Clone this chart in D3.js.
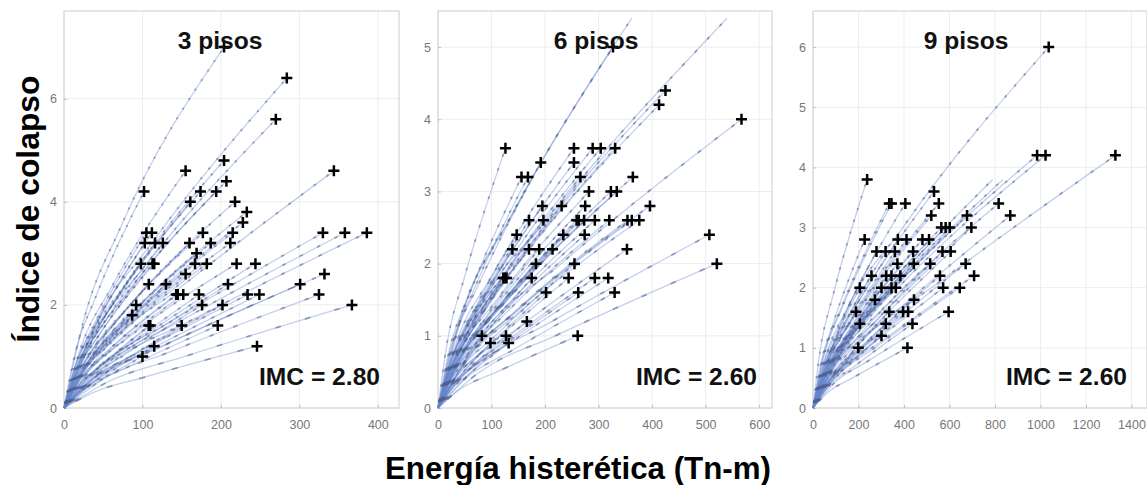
<!DOCTYPE html>
<html><head><meta charset="utf-8">
<style>
html,body{margin:0;padding:0;background:#fff}
svg{display:block}
text{font-family:"Liberation Sans",Arial,sans-serif}
.tick text{fill:#777;font-size:12.5px}
</style>
<script src="https://cdnjs.cloudflare.com/ajax/libs/d3/7.8.5/d3.min.js"></script>
</head><body>
<svg id="c" width="1147" height="485"></svg>
<script>
// each run: [final energy, final index, energy at 1/4 of final index, energy at 1/2 of final index]
const runs3=[[204,7.0,26,72],[284,6.4,40,112],[270,5.6,38,106],[204,4.8,28,78],[155,4.6,21,59],[344,4.6,52,145],[102,4.2,14,39],[174,4.2,24,66],[194,4.2,27,74],[207,4.4,29,79],[161,4.0,22,62],[218,4.0,31,84],[233,3.8,33,90],[228,3.6,32,88],[105,3.4,15,41],[112,3.4,16,43],[177,3.4,25,68],[215,3.4,30,83],[330,3.4,50,139],[358,3.4,54,150],[386,3.4,58,162],[103,3.2,14,40],[116,3.2,16,45],[126,3.2,18,49],[160,3.2,22,62],[187,3.2,26,72],[212,3.2,30,82],[169,3.0,24,65],[98,2.8,14,38],[113,2.8,16,44],[115,2.8,16,44],[167,2.8,23,64],[182,2.8,25,70],[220,2.8,31,85],[244,2.8,37,102],[155,2.6,22,60],[332,2.6,50,139],[108,2.4,15,42],[130,2.4,18,50],[209,2.4,31,88],[301,2.4,45,126],[143,2.2,20,55],[145,2.2,20,56],[152,2.2,21,59],[172,2.2,26,72],[234,2.2,35,98],[249,2.2,37,105],[325,2.2,49,137],[92,2.0,13,36],[176,2.0,26,74],[202,2.0,30,85],[367,2.0,55,154],[87,1.8,12,34],[108,1.6,16,45],[110,1.6,17,46],[150,1.6,23,63],[196,1.6,29,82],[115,1.2,17,48],[246,1.2,37,103],[100,1.0,15,42]];
const runs6=[[327,5.0,42,125],[425,4.4,58,165],[413,4.2,57,160],[567,4.0,80,230],[126,3.6,17,49],[254,3.6,34,98],[289,3.6,39,112],[304,3.6,41,118],[331,3.6,45,128],[192,3.4,26,75],[254,3.4,34,98],[156,3.2,21,60],[168,3.2,23,65],[266,3.2,37,103],[364,3.2,51,142],[282,3.0,39,110],[323,3.0,45,126],[334,3.0,47,130],[195,2.8,27,76],[231,2.8,32,90],[275,2.8,39,107],[396,2.8,56,155],[170,2.6,24,66],[197,2.6,28,77],[259,2.6,36,101],[263,2.6,37,103],[273,2.6,38,106],[293,2.6,41,114],[320,2.6,45,125],[354,2.6,50,138],[362,2.6,51,141],[376,2.6,53,147],[147,2.4,21,57],[234,2.4,33,91],[274,2.4,38,107],[507,2.4,76,213],[139,2.2,19,54],[170,2.2,24,66],[189,2.2,26,74],[214,2.2,30,83],[353,2.2,53,148],[183,2.0,26,71],[255,2.0,38,107],[521,2.0,78,219],[122,1.8,17,48],[125,1.8,18,49],[128,1.8,18,50],[175,1.8,26,74],[244,1.8,37,102],[293,1.8,44,123],[318,1.8,48,134],[202,1.6,30,85],[262,1.6,39,110],[330,1.6,50,139],[166,1.2,25,70],[82,1.0,12,34],[127,1.0,19,53],[261,1.0,39,110],[98,0.9,15,41],[132,0.9,20,55]];
const runs9=[[1036,6.0,135,395],[985,4.2,138,384],[1022,4.2,143,399],[1329,4.2,199,558],[238,3.8,31,90],[532,3.6,72,205],[335,3.4,45,128],[345,3.4,47,132],[406,3.4,55,156],[553,3.4,75,212],[816,3.4,115,320],[520,3.2,70,200],[677,3.2,95,264],[867,3.2,130,364],[564,3.0,79,220],[583,3.0,82,227],[601,3.0,84,234],[696,3.0,104,292],[227,2.8,32,88],[373,2.8,52,145],[411,2.8,58,160],[481,2.8,67,188],[510,2.8,71,199],[279,2.6,39,109],[319,2.6,45,124],[360,2.6,50,140],[440,2.6,62,172],[569,2.6,85,239],[605,2.6,91,254],[371,2.4,52,145],[443,2.4,62,173],[515,2.4,72,201],[671,2.4,101,282],[257,2.2,36,100],[322,2.2,45,126],[345,2.2,48,135],[384,2.2,54,150],[558,2.2,84,234],[708,2.2,106,297],[206,2.0,29,80],[301,2.0,42,117],[345,2.0,48,135],[364,2.0,51,142],[572,2.0,86,240],[645,2.0,97,271],[272,1.8,38,106],[444,1.8,67,186],[189,1.6,26,74],[335,1.6,50,141],[396,1.6,59,166],[418,1.6,63,176],[596,1.6,89,250],[206,1.4,31,87],[320,1.4,48,134],[437,1.4,66,184],[301,1.2,45,126],[199,1.0,30,84],[415,1.0,62,174]];
// runs that run on past the last cross visible in the picture
const open3=[];
const open6=[[362,5.4,48,140],[540,5.4,75,215]];
const open9=[[835,3.8,118,330],[790,3.8,112,315]];
const xTicks3=[0,100,200,300,400], yTicks3=[0,2,4,6];
const xTicks6=[0,100,200,300,400,500,600], yTicks6=[0,1,2,3,4,5];
const xTicks9=[0,200,400,600,800,1000,1200,1400], yTicks9=[0,1,2,3,4,5,6];
const titles=["3 pisos","6 pisos","9 pisos"];
const imcLabels=["IMC = 2.80","IMC = 2.60","IMC = 2.60"];
const xTitle="Energía histerética (Tn-m)", yTitle="Índice de colapso";

const panels=[
 {runs:runs3,open:open3,xt:xTicks3,yt:yTicks3,xd:[0,427],yd:[0,7.7],l:64,r:399,title:titles[0],imc:imcLabels[0],tx:220,ix:380},
 {runs:runs6,open:open6,xt:xTicks6,yt:yTicks6,xd:[0,624],yd:[0,5.5],l:438,r:772,title:titles[1],imc:imcLabels[1],tx:596,ix:757},
 {runs:runs9,open:open9,xt:xTicks9,yt:yTicks9,xd:[0,1468],yd:[0,6.6],l:813,r:1147,title:titles[2],imc:imcLabels[2],tx:966,ix:1127}
];
const plotTop=11,plotBottom=408;
const svg=d3.select("#c");
const defs=svg.append("defs");
defs.append("filter").attr("id","soft").append("feGaussianBlur").attr("stdDeviation",0.4);

panels.forEach(p=>{
 const x=d3.scaleLinear().domain(p.xd).range([p.l,p.r]);
 const y=d3.scaleLinear().domain(p.yd).range([plotBottom,plotTop]);
 const g=svg.append("g");
 // grid
 g.append("g").selectAll("line").data(p.xt).join("line")
  .attr("x1",d=>x(d)).attr("x2",d=>x(d)).attr("y1",plotTop).attr("y2",plotBottom).attr("stroke","#ededed");
 g.append("g").selectAll("line").data(p.yt).join("line")
  .attr("y1",d=>y(d)).attr("y2",d=>y(d)).attr("x1",p.l).attr("x2",p.r).attr("stroke","#ededed");
 g.append("rect").attr("x",p.l).attr("y",plotTop).attr("width",p.r-p.l).attr("height",plotBottom-plotTop)
  .attr("fill","none").attr("stroke","#d6d6d6").attr("stroke-width",1.2);
 // axes
 const ax=g.append("g").attr("transform",`translate(0,${plotBottom})`)
  .call(d3.axisBottom(x).tickValues(p.xt).tickSize(-3).tickPadding(12).tickFormat(d3.format("d")));
 const ay=g.append("g").attr("transform",`translate(${p.l},0)`)
  .call(d3.axisLeft(y).tickValues(p.yt).tickSize(-3).tickPadding(7).tickFormat(d3.format("d")));
 [ax,ay].forEach(a=>{a.select(".domain").remove();a.selectAll(".tick line").attr("stroke","#bdbdbd");});

 const line=d3.line().x(d=>x(d[0])).y(d=>y(d[1])).curve(d3.curveMonotoneX);
 const knots=r=>[[0,0],[r[2],r[1]/4],[r[3],r[1]/2],[r[0],r[1]]];
 const all=p.runs.concat(p.open);
 const marks=g.append("g").attr("filter","url(#soft)");
 marks.append("g").selectAll("path").data(all).join("path")
  .attr("d",r=>line(knots(r))).attr("fill","none")
  .attr("stroke","#6483cc").attr("stroke-opacity",0.38).attr("stroke-width",1.3);
 // small level markers along each run, spaced by index steps of 0.2
 marks.append("g").selectAll("path").data(all).join("path")
  .attr("d",r=>line(knots(r))).attr("fill","none")
  .attr("pathLength",r=>r[1]/0.2)
  .attr("stroke-dasharray",".18 .82").attr("stroke-dashoffset",-0.4)
  .attr("stroke","#50628f").attr("stroke-opacity",0.55).attr("stroke-width",1.8);
 // crosses
 marks.append("g").selectAll("path").data(p.runs).join("path")
  .attr("transform",r=>`translate(${x(r[0])},${y(r[1])})`)
  .attr("d","M-5.5,0H5.5M0,-5.5V5.5")
  .attr("stroke","#050505").attr("stroke-width",2.5).attr("fill","none");
 // labels
 g.append("text").attr("x",p.tx).attr("y",49).attr("text-anchor","middle")
  .attr("font-size",24.6).attr("font-weight","bold").attr("fill","#111").text(p.title);
 g.append("text").attr("x",p.ix).attr("y",385).attr("text-anchor","end")
  .attr("font-size",24.6).attr("font-weight","bold").attr("fill","#111").text(p.imc);
});
svg.append("text").attr("x",578).attr("y",479).attr("text-anchor","middle")
 .attr("font-size",31.3).attr("font-weight","bold").attr("fill","#000").text(xTitle);
svg.append("text").attr("transform","translate(39,209) rotate(-90)").attr("text-anchor","middle")
 .attr("font-size",31.8).attr("font-weight","bold").attr("fill","#000").text(yTitle);
</script>
</body></html>
